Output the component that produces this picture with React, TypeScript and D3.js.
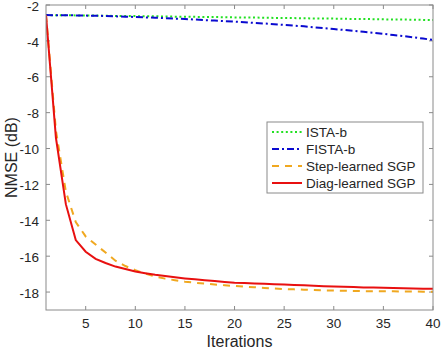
import React from "react";
import * as d3 from "d3";

const iterations = [1,2,3,4,5,6,7,8,9,10,11,12,13,14,15,16,17,18,19,20,21,22,23,24,25,26,27,28,29,30,31,32,33,34,35,36,37,38,39,40];

const istaB = [-2.56,-2.57,-2.57,-2.58,-2.59,-2.59,-2.60,-2.61,-2.61,-2.62,-2.63,-2.63,-2.64,-2.65,-2.65,-2.66,-2.67,-2.67,-2.68,-2.69,-2.70,-2.70,-2.71,-2.72,-2.72,-2.73,-2.74,-2.75,-2.75,-2.76,-2.77,-2.78,-2.78,-2.79,-2.80,-2.81,-2.81,-2.82,-2.83,-2.84];

const fistaB = [-2.56,-2.57,-2.57,-2.58,-2.59,-2.60,-2.61,-2.63,-2.65,-2.67,-2.69,-2.71,-2.73,-2.76,-2.78,-2.81,-2.84,-2.87,-2.90,-2.93,-2.96,-3.00,-3.03,-3.07,-3.11,-3.15,-3.19,-3.24,-3.29,-3.34,-3.39,-3.44,-3.49,-3.55,-3.61,-3.67,-3.73,-3.80,-3.87,-3.95];

const stepSGP = [-2.56,-9.0,-12.4,-14.1,-14.9,-15.35,-15.8,-16.25,-16.55,-16.78,-16.97,-17.13,-17.25,-17.34,-17.42,-17.48,-17.53,-17.58,-17.62,-17.66,-17.70,-17.73,-17.77,-17.80,-17.83,-17.85,-17.87,-17.89,-17.91,-17.92,-17.93,-17.94,-17.95,-17.95,-17.96,-17.96,-17.97,-17.97,-17.98,-17.98];

const diagSGP = [-2.56,-9.4,-13.1,-15.1,-15.75,-16.15,-16.38,-16.58,-16.72,-16.85,-16.95,-17.04,-17.11,-17.18,-17.24,-17.29,-17.34,-17.39,-17.44,-17.48,-17.50,-17.52,-17.54,-17.56,-17.58,-17.60,-17.62,-17.65,-17.67,-17.69,-17.71,-17.72,-17.74,-17.75,-17.76,-17.77,-17.79,-17.80,-17.81,-17.82];

const xTicks = [5,10,15,20,25,30,35,40];
const yTicks = [-18,-16,-14,-12,-10,-8,-6,-4,-2];

const seriesNames = ["ISTA-b","FISTA-b","Step-learned SGP","Diag-learned SGP"];
const seriesData = [istaB, fistaB, stepSGP, diagSGP];
const seriesColors = ["#22e022","#0a0ad0","#f0a820","#e81010"];
const seriesDash = ["2,2.6","7,3,2,3","7,6",""];

export default function App() {
  const W = 441, H = 350;
  const L = 46, R = 433, T = 5, B = 310;
  const x = d3.scaleLinear().domain([1, 40]).range([L, R]);
  const y = d3.scaleLinear().domain([-19, -2]).range([B, T]);
  const axisColor = "#8a8a8a";
  const textColor = "#262626";
  const font = "Liberation Sans, Arial, Helvetica, sans-serif";
  const line = d3.line<number>().x((_, i) => x(iterations[i])).y((d) => y(d));
  const tl = 4;
  const legX = 267, legY = 122, legW = 156, legH = 71;
  return (
    <svg width={W} height={H} style={{ position: "absolute", left: 0, top: 0, background: "#fff" }} fontFamily={font}>
      <rect x={0} y={0} width={W} height={H} fill="#fff" />
      <defs>
        <clipPath id="plotclip"><rect x={L} y={T} width={R - L} height={B - T} /></clipPath>
      </defs>
      {xTicks.map((t) => (
        <g key={"xt" + t}>
          <line x1={x(t)} x2={x(t)} y1={B} y2={B - tl} stroke={axisColor} />
          <line x1={x(t)} x2={x(t)} y1={T} y2={T + tl} stroke={axisColor} />
          <text x={x(t)} y={328} textAnchor="middle" fontSize={13.5} fill={textColor}>{t}</text>
        </g>
      ))}
      {yTicks.map((t) => (
        <g key={"yt" + t}>
          <line x1={L} x2={L + tl} y1={y(t)} y2={y(t)} stroke={axisColor} />
          <line x1={R} x2={R - tl} y1={y(t)} y2={y(t)} stroke={axisColor} />
          <text x={39} y={y(t) + 1} dy="0.35em" textAnchor="end" fontSize={13.5} fill={textColor}>{t}</text>
        </g>
      ))}
      <g clipPath="url(#plotclip)">
        {seriesData.map((s, i) => (
          <path key={"s" + i} d={line(s) || ""} fill="none" stroke={seriesColors[i]} strokeWidth={2}
            strokeDasharray={seriesDash[i] || undefined} />
        ))}
      </g>
      <rect x={L} y={T} width={R - L} height={B - T} fill="none" stroke={axisColor} strokeWidth={1} />
      <text x={(L + R) / 2} y={347} textAnchor="middle" fontSize={16} fill={textColor}>Iterations</text>
      <text transform={`translate(17,${(T + B) / 2}) rotate(-90)`} textAnchor="middle" fontSize={16} fill={textColor}>NMSE (dB)</text>
      <rect x={legX} y={legY} width={legW} height={legH} fill="#fff" stroke={axisColor} />
      {seriesNames.map((n, i) => {
        const yy = legY + 10 + i * 17;
        return (
          <g key={"lg" + i}>
            <line x1={272} x2={302} y1={yy} y2={yy} stroke={seriesColors[i]} strokeWidth={2}
              strokeDasharray={seriesDash[i] || undefined} />
            <text x={306} y={yy} dy="0.35em" fontSize={13.5} fill={textColor}>{n}</text>
          </g>
        );
      })}
    </svg>
  );
}
